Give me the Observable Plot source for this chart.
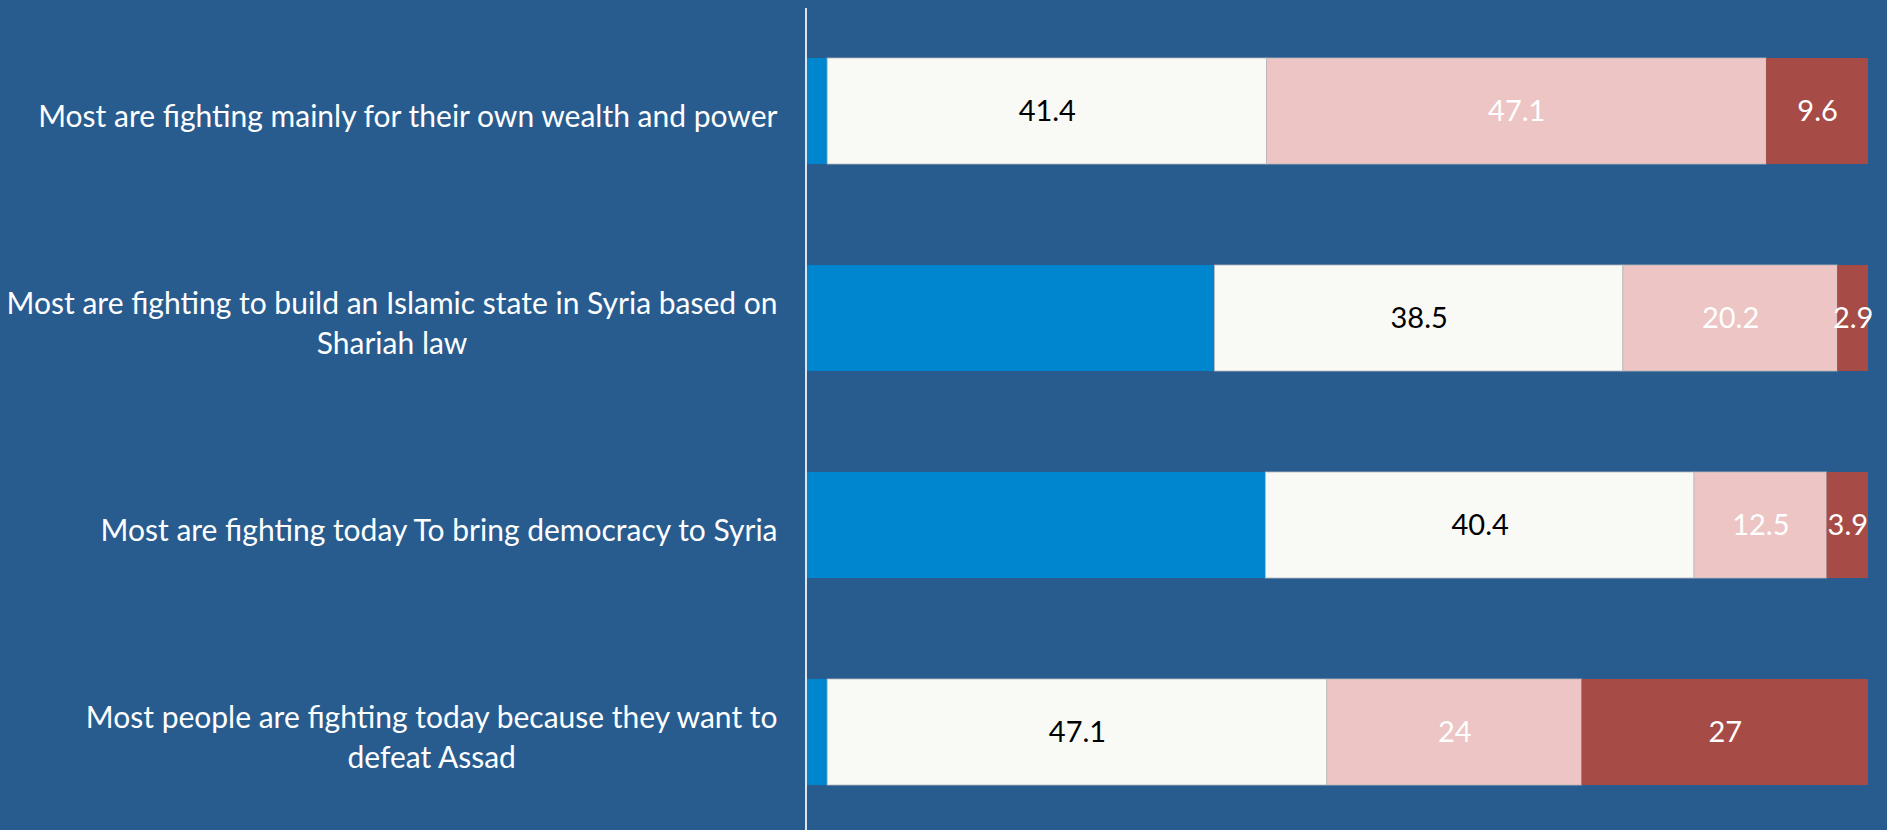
<!DOCTYPE html>
<html><head><meta charset="utf-8">
<script src="https://cdn.jsdelivr.net/npm/d3@7"></script>
<script src="https://cdn.jsdelivr.net/npm/@observablehq/plot@0.6"></script>
<style>
html,body{margin:0;padding:0;background:#285C8F;overflow:hidden;}
</style></head><body><div id="chart"></div>
<script>
const categories = [
  "Most are fighting mainly for their own wealth and power",
  "Most are fighting to build an Islamic state in Syria based on\nShariah law",
  "Most are fighting today To bring democracy to Syria",
  "Most people are fighting today because they want to\ndefeat Assad"
];
const seriesNames = ["Series 1", "Series 2", "Series 3", "Series 4"];
const seriesColors = ["#0085CF", "#F9FAF5", "#ECC5C4", "#A64B45"];
const labelColors = [null, "#000000", "#FFFFFF", "#FFFFFF"];
const series1 = [1.9, 38.4, 43.2, 1.9];
const series2 = [41.4, 38.5, 40.4, 47.1];
const series3 = [47.1, 20.2, 12.5, 24];
const series4 = [9.6, 2.9, 3.9, 27];
const showLabel = [false, true, true, true];

const allSeries = [series1, series2, series3, series4];
const table = [];
categories.forEach((c, i) => {
  allSeries.forEach((s, j) => {
    table.push({cat: c, series: seriesNames[j], value: s[i], idx: j});
  });
});

const font = "Lato, 'Open Sans', sans-serif";

const chart = Plot.plot({
  width: 1887,
  height: 830,
  marginLeft: 807,
  marginRight: 19,
  marginTop: 8,
  marginBottom: 0,
  style: {background: "#285C8F", fontFamily: font, overflow: "visible"},
  x: {domain: [0, 100], axis: null},
  y: {domain: categories, axis: null, paddingInner: 0.488, paddingOuter: 0.2295, align: 0.524},
  color: {domain: seriesNames, range: seriesColors},
  marks: [
    Plot.barX(table, Plot.stackX({
      x: "value", y: "cat", fill: "series", order: seriesNames,
      stroke: d => (d.idx === 1 || d.idx === 2) ? "#b9b9b9" : "none",
      strokeWidth: 0.8
    })),
    Plot.text(table, Plot.stackX({
      x: "value", y: "cat", order: seriesNames,
      text: d => showLabel[d.idx] ? String(d.value) : null,
      fill: d => labelColors[d.idx] || "none",
      fontSize: 29
    })),
    Plot.ruleX([0], {stroke: "#dde4ec", strokeWidth: 2, dx: -1.5}),
    Plot.text(categories, {
      x: 0, y: d => d, text: d => d,
      textAnchor: "middle", fill: "#FFFFFF", fontSize: 30, lineHeight: 1.33,
      dy: 3
    })
  ]
});
document.getElementById("chart").appendChild(chart);

// Right-align each label block (lines centered within the block), 30px left of the axis
const gap = 30;
const textGroups = chart.querySelectorAll('g[aria-label="text"]');
const labelGroup = textGroups[textGroups.length - 1];
labelGroup.querySelectorAll("text").forEach(t => {
  const bb = t.getBBox(); // local coords: anchor at 0
  const shift = -gap - (bb.x + bb.width);
  const prev = t.getAttribute("transform") || "";
  t.setAttribute("transform", prev + ` translate(${shift},0)`);
});
</script>
</body></html>
